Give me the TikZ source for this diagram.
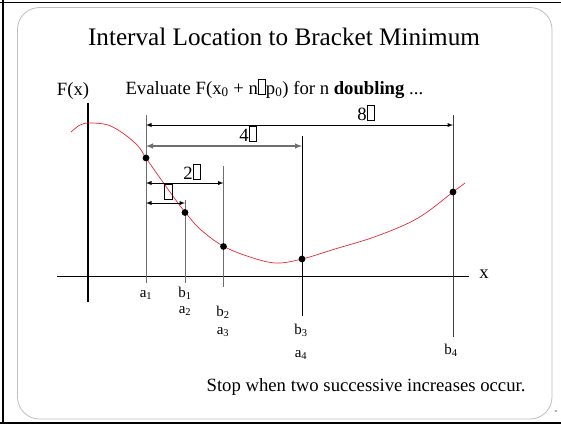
\documentclass[tikz,border=0pt]{standalone}
\usepackage{fontspec}
\setmainfont{Liberation Serif}
\usetikzlibrary{arrows}
\definecolor{qcurve}{RGB}{235,40,50}
\definecolor{qgray}{RGB}{110,110,110}
\definecolor{qframe}{RGB}{190,190,190}

% missing-glyph box, as printed in the slide
\newcommand{\nog}{{\setlength{\fboxsep}{0pt}\setlength{\fboxrule}{0.5pt}\fbox{\rule{0pt}{0.78em}\hspace{0.38em}}}}

\begin{document}
\begin{tikzpicture}[x=1pt,y=-1pt,font=\fontsize{18.7}{21}\selectfont]
\useasboundingbox (0,0) rectangle (561,424);
\def\ax{276}
\def\r{3.4}

% slide frame
\draw[line width=1.2pt] (0,2.5) -- (561,2.5) (3,0) -- (3,424) (0,423) -- (561,423);
\draw[qframe,line width=0.8pt,rounded corners=22pt] (17.5,7.5) rectangle (552,419);

\node (title) at (284,37) {\fontsize{25.2}{28}\selectfont Interval Location to Bracket Minimum};
\node[anchor=base west] (eval) at (122,94) {Evaluate F(x\textsubscript{0} + n\nog p\textsubscript{0}) for n \textbf{doubling} ...};
\node[anchor=base east] (stop) at (529,391) {Stop when two successive increases occur.};
\node (pg) at (556,412) {\fontsize{3}{3}\selectfont 31};

% axes
\coordinate (ytop) at (88,103);
\coordinate (ybot) at (88,302);
\coordinate (xl) at (57,\ax);
\coordinate (xr) at (469,\ax);
\draw[line width=1.6pt] (ytop) -- (ybot);
\draw[line width=0.9pt] (xl) -- (xr);
\node (xlab) at (484,274) {x};
\node (Fx) at (73,91) {F(x)};

% bracket lines
\coordinate (a1t) at (146,115);  \coordinate (a1b) at (146,283);
\coordinate (b1t) at (185,200);  \coordinate (b1b) at (185,283);
\coordinate (b2t) at (223.5,166);  \coordinate (b2b) at (223.5,287);
\coordinate (b3t) at (302,136);  \coordinate (b3b) at (302,316);
\coordinate (b4t) at (453,115);  \coordinate (b4b) at (453,337);
\draw[qgray,line width=0.9pt] (a1t) -- (a1b) (b1t) -- (b1b) (b2t) -- (b2b);
\draw[line width=0.9pt] (b3t) -- (b3b);
\draw[black!75,line width=0.9pt] (b4t) -- (b4b);

\begin{scope}[font=\fontsize{15}{17}\selectfont]
\node (la1) at (146,295) {a\textsubscript{1}};
\node (lb1) at (185,293) {b\textsubscript{1}};
\node (la2) at (185,311) {a\textsubscript{2}};
\node (lb2) at (223,312) {b\textsubscript{2}};
\node (la3) at (223,332) {a\textsubscript{3}};
\node (lb3) at (301,330) {b\textsubscript{3}};
\node (la4) at (301,355) {a\textsubscript{4}};
\node (lb4) at (451,350) {b\textsubscript{4}};
\end{scope}

% the function
\draw[qcurve,line width=0.7pt] plot[smooth,tension=0.6] coordinates {(71,132) (80,125) (90,123) (108,125) (124,134) (138,146) (146,158) (160,178) (175,199) (185,212) (200,229) (223,246) (250,257) (276,263) (302,259) (335,249) (377,236) (418,218) (453,192) (465,183)};

% doubling steps
\coordinate (s8l) at (146,125); \coordinate (s8r) at (453,125);
\coordinate (s4l) at (146,146); \coordinate (s4r) at (302,146);
\coordinate (s2l) at (146,183); \coordinate (s2r) at (223.5,183);
\coordinate (s1l) at (146,203); \coordinate (s1r) at (185,203);
\draw[latex-latex,line width=0.9pt] (s8l) -- (s8r);
\draw[latex-latex,qgray,line width=1.4pt] (s4l) -- (s4r);
\draw[latex-latex,line width=0.9pt] (s2l) -- (s2r);
\draw[latex-latex,line width=0.9pt] (s1l) -- (s1r);
\node (d8) at (366,113) {8\nog};
\node (d4) at (248,134) {4\nog};
\node (d2) at (192,172) {2\nog};
\node (d1) at (168,192) {\nog};

% sampled points
\fill (146,158) circle(\r) (185,212.5) circle(\r) (223.5,246.5) circle(\r)
      (302,259) circle(\r) (453,192) circle(\r);
\end{tikzpicture}
\end{document}
